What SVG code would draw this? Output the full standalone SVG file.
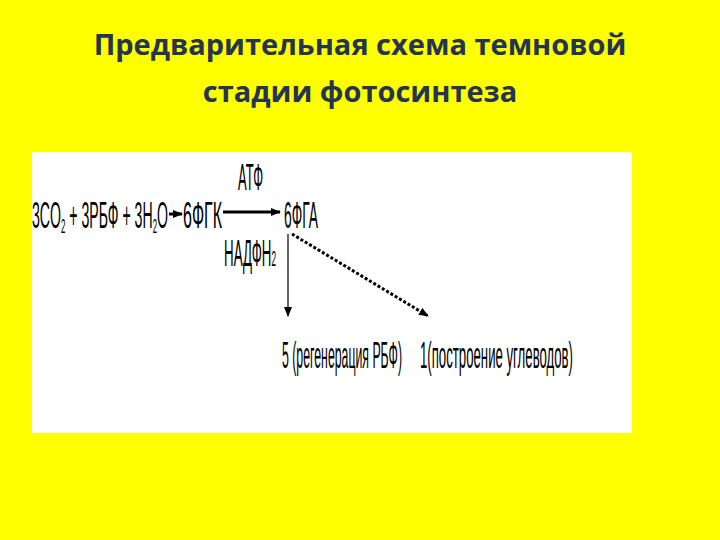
<svg xmlns="http://www.w3.org/2000/svg" width="720" height="540" viewBox="0 0 720 540">
<style>
.t{font-family:"Open Sans","Liberation Sans",sans-serif;font-weight:bold;font-size:29px;fill:#243452;text-anchor:middle}
.d{font-family:"Liberation Sans",sans-serif;font-size:36px;fill:#000}
</style>
<defs>
<marker id="a" markerWidth="10" markerHeight="8" refX="9" refY="4" orient="auto" markerUnits="userSpaceOnUse"><path d="M0,0 L10,4 L0,8 Z" fill="#000"/></marker>
</defs>
<rect width="720" height="540" fill="#ffff00"/>
<g id="title">
<text class="t" x="360" y="55">Предварительная схема темновой</text>
<text class="t" x="360" y="102">стадии фотосинтеза</text>
</g>
<rect x="32" y="152" width="600" height="281" fill="#fff"/>
<g id="n1"><text class="d" x="32" y="228" textLength="136" lengthAdjust="spacingAndGlyphs">3CO<tspan font-size="20" dy="5">2</tspan><tspan dy="-5"> + 3РБФ + 3H</tspan><tspan font-size="20" dy="5">2</tspan><tspan dy="-5">O</tspan></text></g>
<g id="n2"><text class="d" x="183" y="228" textLength="39" lengthAdjust="spacingAndGlyphs">6ФГК</text></g>
<g id="n3"><text class="d" x="284" y="228" textLength="34" lengthAdjust="spacingAndGlyphs">6ФГА</text></g>
<g id="n4"><text class="d" font-size="32" x="238" y="190" textLength="25" lengthAdjust="spacingAndGlyphs">АТФ</text></g>
<g id="n5"><text class="d" x="224" y="266" textLength="52" lengthAdjust="spacingAndGlyphs">НАДФН<tspan font-size="22">2</tspan></text></g>
<g id="n6"><text class="d" font-size="38" x="282" y="368" textLength="120" lengthAdjust="spacingAndGlyphs">5 (регенерация РБФ)</text></g>
<g id="n7"><text class="d" font-size="38" x="420" y="368" textLength="153" lengthAdjust="spacingAndGlyphs">1(построение углеводов)</text></g>
<g id="connectors" stroke="#000" fill="none">
<line x1="169" y1="214" x2="182" y2="214" stroke-width="3" marker-end="url(#a)"/>
<line x1="223" y1="212" x2="280" y2="212" stroke-width="3" marker-end="url(#a)"/>
<line x1="288" y1="234" x2="288" y2="316" stroke-width="1.2" marker-end="url(#a)"/>
<line x1="292" y1="234" x2="428" y2="316" stroke-width="3" stroke-dasharray="3,2" marker-end="url(#a)"/>
</g>
</svg>
